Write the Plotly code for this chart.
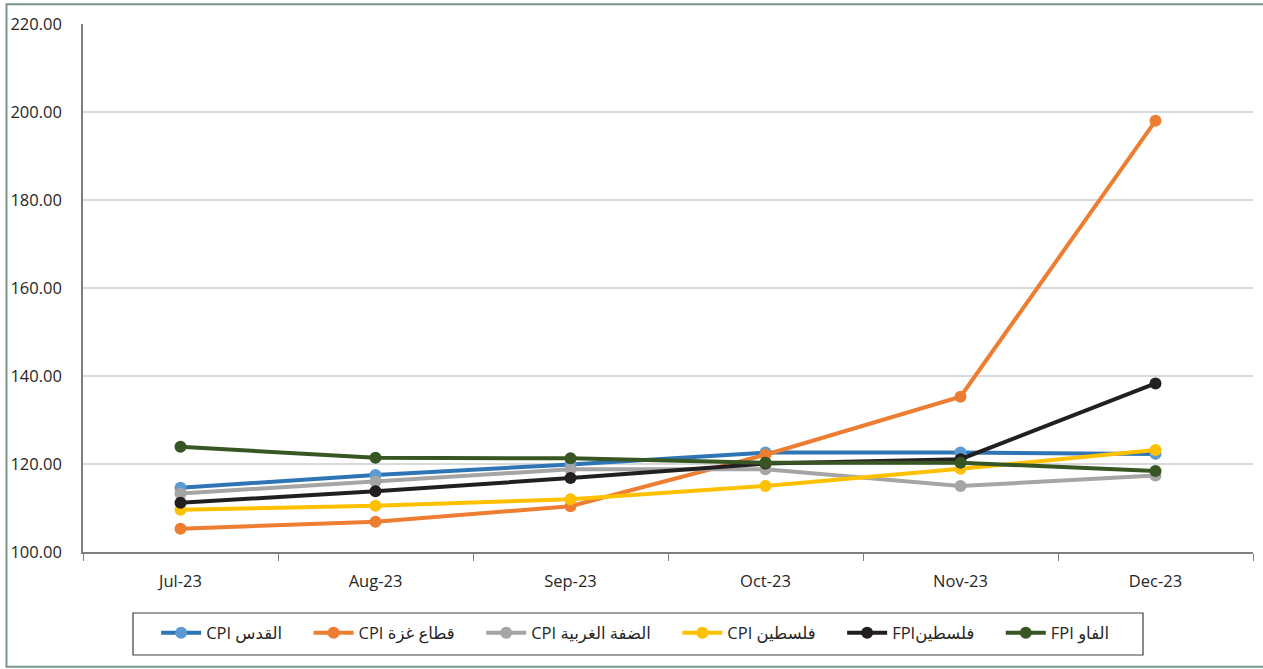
import plotly.graph_objects as go

# Monthly index values, July–December 2023
months = ["Jul-23", "Aug-23", "Sep-23", "Oct-23", "Nov-23", "Dec-23"]

cpi_jerusalem = [114.6, 117.5, 119.9, 122.6, 122.6, 122.3]
cpi_gaza = [105.3, 106.9, 110.4, 122.1, 135.3, 198.0]
cpi_west_bank = [113.3, 116.0, 118.8, 118.8, 115.0, 117.4]
cpi_palestine = [109.6, 110.5, 112.0, 115.0, 118.9, 123.2]
fpi_palestine = [111.2, 113.8, 116.8, 120.1, 121.1, 138.3]
fpi_fao = [123.9, 121.4, 121.3, 120.3, 120.3, 118.4]

# Legend names (RLE ... PDF keeps the Arabic reading order)
names = [
    "\u202bالقدس CPI\u202c",
    "\u202bقطاع غزة CPI\u202c",
    "\u202bالضفة الغربية CPI\u202c",
    "\u202bفلسطين CPI\u202c",
    "\u202bفلسطينFPI\u202c",
    "\u202bالفاو FPI\u202c",
]

series = [cpi_jerusalem, cpi_gaza, cpi_west_bank, cpi_palestine, fpi_palestine, fpi_fao]
line_colors = ["#2E75B6", "#ED7D31", "#A5A5A5", "#FFC000", "#231F20", "#375623"]
marker_colors = ["#5B9BD5", "#ED7D31", "#A5A5A5", "#FFC000", "#231F20", "#375623"]

pad = "\u00a0" * 5  # extra room between legend entries

fig = go.Figure()
for name, vals, lc, mc in zip(names, series, line_colors, marker_colors):
    fig.add_trace(go.Scatter(
        x=months, y=vals, name=name + pad, mode="lines+markers",
        line=dict(color=lc, width=4),
        marker=dict(color=mc, size=12),
    ))

font_family = "Open Sans, DejaVu Sans, sans-serif"

fig.update_layout(
    width=1263, height=669,
    margin=dict(l=83, r=10, t=24, b=117),
    paper_bgcolor="white", plot_bgcolor="white",
    font=dict(family=font_family, size=16, color="#262626"),
    showlegend=True,
    legend=dict(
        orientation="h", x=0.0625, xanchor="left", y=-0.1205, yanchor="top",
        borderwidth=0, bgcolor="rgba(0,0,0,0)",
        font=dict(family=font_family, size=16.5, color="#262626"),
        itemwidth=40, tracegroupgap=0,
    ),
    xaxis=dict(
        type="category", range=[-0.5, 5.5],
        tickson="boundaries", ticks="outside", ticklen=7,
        tickcolor="#7f7f7f", showline=True, linecolor="#7f7f7f", linewidth=1.5,
        showgrid=False, ticklabelstandoff=13,
        tickfont=dict(size=16.5, color="#262626"),
    ),
    yaxis=dict(
        range=[100, 220], dtick=20, tickformat=".2f",
        showline=True, linecolor="#7f7f7f", linewidth=1.5,
        showgrid=True, gridcolor="#d9d9d9", gridwidth=1.5,
        zeroline=False, ticks="", ticklabelstandoff=16,
        tickfont=dict(size=16.5, color="#262626"),
    ),
    shapes=[
        # outer chart frame
        dict(type="rect", xref="paper", yref="paper",
             x0=-0.0654, x1=1.012, y0=-0.2175, y1=1.0375,
             line=dict(color="#7a9686", width=2), layer="below"),
        # legend frame
        dict(type="rect", xref="paper", yref="paper",
             x0=(133 - 83) / 1170, x1=(1143 - 83) / 1170,
             y0=(552 - 655) / 528, y1=(552 - 613) / 528,
             line=dict(color="#404040", width=1.2), layer="below"),
    ],
)

fig.write_html("out.html")
